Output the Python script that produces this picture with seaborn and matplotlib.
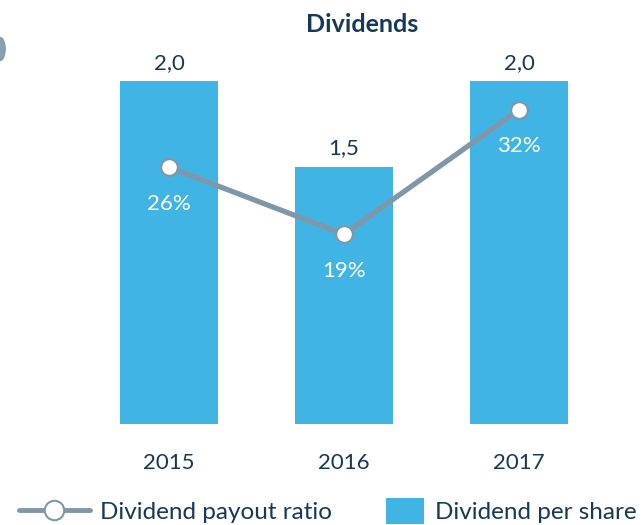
import numpy as np
import pandas as pd
import matplotlib.pyplot as plt
import seaborn as sns
from matplotlib.lines import Line2D
from matplotlib.patches import Patch, Ellipse

# chart data
years = ["2015", "2016", "2017"]
dividend_per_share = [2.0, 1.5, 2.0]
payout_ratio = [26, 19, 32]

BAR_COLOR = "#41b4e6"
LINE_COLOR = "#7f97a9"
TEXT_COLOR = "#15385d"


def main():
    sns.set_theme(style="white")
    plt.rcParams["font.family"] = ["Lato", "DejaVu Sans"]

    df = pd.DataFrame({"year": years, "dps": dividend_per_share, "ratio": payout_ratio})

    fig = plt.figure(figsize=(6.42, 5.25), dpi=100)
    W, H = 642, 525
    left, right, top, bottom = 81.5, 606.5, 81, 424
    ax = fig.add_axes([left / W, 1 - bottom / H, (right - left) / W, (bottom - top) / H])

    sns.barplot(ax=ax, data=df, x="year", y="dps", color=BAR_COLOR, width=0.56,
                saturation=1, edgecolor="none")
    ax.set_ylim(0, 2.0)
    ax.set_xlim(-0.5, 2.5)
    for i, v in enumerate(dividend_per_share):
        ax.annotate(f"{v:.1f}".replace(".", ","), (i, v), xytext=(0, 6), textcoords="offset points",
                    ha="center", va="bottom", fontsize=16, color=TEXT_COLOR, annotation_clip=False)

    ax.set_xlabel("")
    ax.set_ylabel("")
    ax.set_yticks([])
    ax.tick_params(axis="x", length=0, pad=21, labelsize=16, labelcolor=TEXT_COLOR)
    sns.despine(ax=ax, left=True, bottom=True)

    ax2 = ax.twinx()
    xpos = np.arange(len(years))
    sns.lineplot(ax=ax2, x=xpos, y=payout_ratio, color=LINE_COLOR, linewidth=3.8,
                 marker="o", markersize=12, markerfacecolor="white",
                 markeredgecolor=LINE_COLOR, markeredgewidth=1.5)
    ax2.set_ylim(-0.8, 35)
    ax2.set_yticks([])
    ax2.set_ylabel("")
    for s in ax2.spines.values():
        s.set_visible(False)
    for i, v in enumerate(payout_ratio):
        ax2.annotate(f"{v}%", (i, v), xytext=(0, -19), textcoords="offset points",
                     ha="center", va="top", fontsize=16, color="white")

    fig.text(362 / W, 1 - 24 / H, "Dividends", ha="center", va="center",
             fontsize=18, fontweight="bold", color=TEXT_COLOR)

    # partial circle at the left edge
    fig.patches.append(Ellipse((0, 1 - 49 / H), 0.016, 0.044, transform=fig.transFigure,
                               color="#7e97ab", alpha=0.9))

    line_handle = Line2D([0], [0], color=LINE_COLOR, linewidth=3.5, marker="o", markersize=14,
                         markerfacecolor="white", markeredgecolor=LINE_COLOR, markeredgewidth=1.5)
    bar_handle = Patch(facecolor=BAR_COLOR, edgecolor="none")
    fig.legend([line_handle], ["Dividend payout ratio"], loc="center left",
               bbox_to_anchor=(19 / W, 1 - 512 / H), frameon=False, fontsize=17.5,
               labelcolor=TEXT_COLOR, handlelength=2.92, handletextpad=0.41,
               borderpad=0, borderaxespad=0)
    fig.legend([bar_handle], ["Dividend per share"], loc="center left",
               bbox_to_anchor=(386 / W, 1 - 511 / H), frameon=False, fontsize=17.5,
               labelcolor=TEXT_COLOR, handlelength=1.56, handleheight=1.23,
               handletextpad=0.45, borderpad=0, borderaxespad=0)

    fig.savefig("out.png", dpi=100)


if __name__ == "__main__":
    main()
